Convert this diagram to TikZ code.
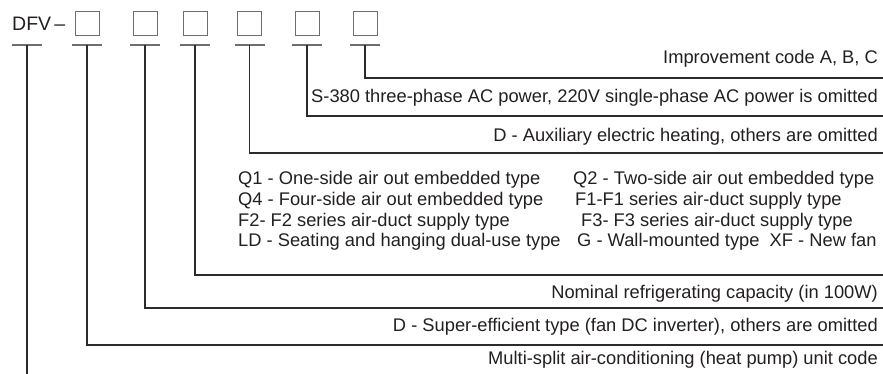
\documentclass[tikz,border=0pt]{standalone}
\usepackage{fontspec}
\setmainfont{Liberation Sans}
\usepackage{xcolor}
\definecolor{cText}{HTML}{231F20}
\definecolor{cLine}{HTML}{2B2B2B}
\definecolor{cGray}{HTML}{6E6E6E}
\usetikzlibrary{positioning,calc}
\tikzset{
  code-box/.style={draw=cGray,line width=1pt,minimum size=24pt,inner sep=0pt},
  code-text/.style={text=cText,font=\fontsize{18.3}{20}\selectfont,
    inner sep=0pt,anchor=base east},
  list-text/.style={code-text,anchor=base west},
  lead/.style={draw=cLine,line width=1.1pt},
  lead-tick/.style={draw=cGray,line width=1.1pt},
}

\begin{document}
\begin{tikzpicture}[x=1pt,y=-1pt]
  \useasboundingbox (0,0) rectangle (883,374);
  % model code and its blank fields
  \node[list-text,font=\fontsize{19.5}{21}\selectfont] (dfv) at (12,30.7) {DFV\,--};
  \foreach \n/\x in {1/87,2/145,3/195,4/249.5,5/307,6/365}{
    \node[code-box] (b\n) at (\x,24) {};
    \coordinate (t\n) at (\x,45);
  }
  \coordinate (t0) at (27,45);
  \foreach \n in {0,...,6}
    \draw[lead-tick] ($(t\n)+(-15,0)$) -- ($(t\n)+(15,0)$);

  % lead ends
  \coordinate (e6) at (883,78);
  \coordinate (e5) at (883,116);
  \coordinate (e4) at (883,153);
  \coordinate (e3) at (883,275);
  \coordinate (e2) at (883,308);
  \coordinate (e1) at (883,345);
  \coordinate (e0) at (27,374);
  \foreach \n in {1,...,6}
    \draw[lead] (t\n) |- (e\n);
  \draw[lead] (t0) -- (e0);

  % meanings
  \node[code-text] (lbl6) at (878,64) {Improvement code A, B, C};
  \node[code-text] (lbl5) at (878,103) {S-380 three-phase AC power, 220V single-phase AC power is omitted};
  \node[code-text] (lbl4) at (878,141.5) {D - Auxiliary electric heating, others are omitted};
  \node[list-text] (q1) at (238,185) {Q1 - One-side air out embedded type};
  \node[list-text] (q4) at (238,205.5) {Q4 - Four-side air out embedded type};
  \node[list-text] (f2) at (238,226) {F2- F2 series air-duct supply type};
  \node[list-text] (ld) at (238,246.5) {LD - Seating and hanging dual-use type};
  \node[list-text] (q2) at (573,185) {Q2 - Two-side air out embedded type};
  \node[list-text] (f1) at (575,205.5) {F1-F1 series air-duct supply type};
  \node[list-text] (f3) at (581,226) {F3- F3 series air-duct supply type};
  \node[list-text] (g) at (577,246.5) {G - Wall-mounted type\ \ XF - New fan};
  \node[code-text] (lbl3) at (878,298) {Nominal refrigerating capacity (in 100W)};
  \node[code-text] (lbl2) at (878,331) {D - Super-efficient type (fan DC inverter), others are omitted};
  \node[code-text] (lbl1) at (878,364) {Multi-split air-conditioning (heat pump) unit code};
\end{tikzpicture}
\end{document}
